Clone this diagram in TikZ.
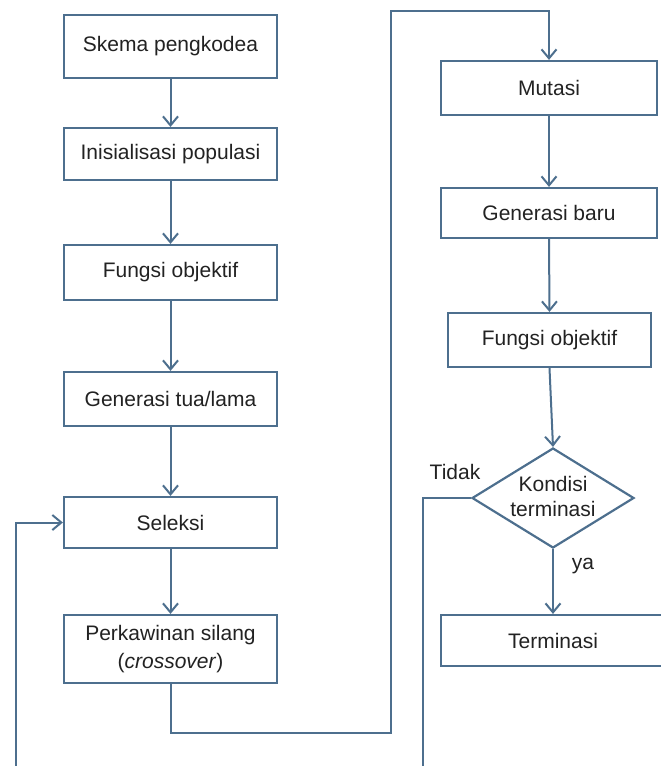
\documentclass[tikz,border=0pt]{standalone}
\usepackage{fontspec}
\setmainfont{Liberation Sans}
\usetikzlibrary{arrows.meta,shapes.geometric}
\definecolor{edge}{HTML}{4D6F8E}
\definecolor{ink}{HTML}{222222}
\tikzset{
  box/.style={draw=edge, line width=2.2pt, rectangle, inner sep=0pt, text=ink,
    font=\fontsize{21}{28}\selectfont, align=center},
  dia/.style={draw=edge, line width=2.2pt, diamond, inner sep=0pt,
    minimum width=162pt, minimum height=100pt},
  txt/.style={text=ink, font=\fontsize{21}{25}\selectfont, align=center, inner sep=0pt},
  conn/.style={draw=edge, line width=2pt},
  arr/.style={conn, -{Straight Barb[length=9pt,width=15pt,line width=2pt]}}
}
\begin{document}
\begin{tikzpicture}[x=1pt,y=-1pt]
\clip (0,0) rectangle (661,766);
\useasboundingbox (0,0) rectangle (661,766);
% left column
\node[box, minimum width=213pt, minimum height=63pt] (skema) at (170.5,46.5) {Skema pengkodea};
\node[box, minimum width=213pt, minimum height=52pt] (inis) at (170.5,154) {Inisialisasi populasi};
\node[box, minimum width=213pt, minimum height=55pt] (fobj1) at (170.5,272.5) {Fungsi objektif};
\node[box, minimum width=213pt, minimum height=54pt] (gtua) at (170.5,399) {Generasi tua/lama};
\node[box, minimum width=213pt, minimum height=51pt] (sel) at (170.5,522.5) {Seleksi};
\node[box, minimum width=213pt, minimum height=68pt] (perk) at (170.5,649) {Perkawinan silang\\(\textit{crossover})};
% right column
\node[box, minimum width=216pt, minimum height=54pt] (mut) at (549,88) {Mutasi};
\node[box, minimum width=216pt, minimum height=50pt] (gbaru) at (549,213) {Generasi baru};
\node[box, minimum width=203pt, minimum height=54pt] (fobj2) at (549.5,340) {Fungsi objektif};
\node[dia] (kond) at (553,498) {};
\node[txt] (kondt) at (553,496) {Kondisi\\terminasi};
\node[box, minimum width=224pt, minimum height=51pt] (term) at (553,640.5) {Terminasi};
% labels
\node[txt] (tidak) at (455,472) {Tidak};
\node[txt] (ya) at (583,566) {ya};
% route coordinates
\coordinate (p1) at (170.5,733);
\coordinate (p2) at (391,733);
\coordinate (p3) at (391,11);
\coordinate (p4) at (549,11);
\coordinate (q1) at (423,498);
\coordinate (q2) at (423,780);
\coordinate (r1) at (16,780);
\coordinate (r2) at (16,522.5);
% connectors
\draw[arr] (skema) -- (inis);
\draw[arr] (inis) -- (fobj1);
\draw[arr] (fobj1) -- (gtua);
\draw[arr] (gtua) -- (sel);
\draw[arr] (sel) -- (perk);
\draw[arr] (perk.south) -- (p1) -- (p2) -- (p3) -- (p4) -- (mut.north);
\draw[arr] (mut) -- (gbaru);
\draw[arr] (gbaru.south) -- (fobj2.north);
\draw[arr] (fobj2.south) -- (kond.north);
\draw[arr] (kond.south) -- (term.north);
\draw[conn] (kond.west) -- (q1) -- (q2);
\draw[arr] (r1) -- (r2) -- (sel.west);
\end{tikzpicture}
\end{document}
